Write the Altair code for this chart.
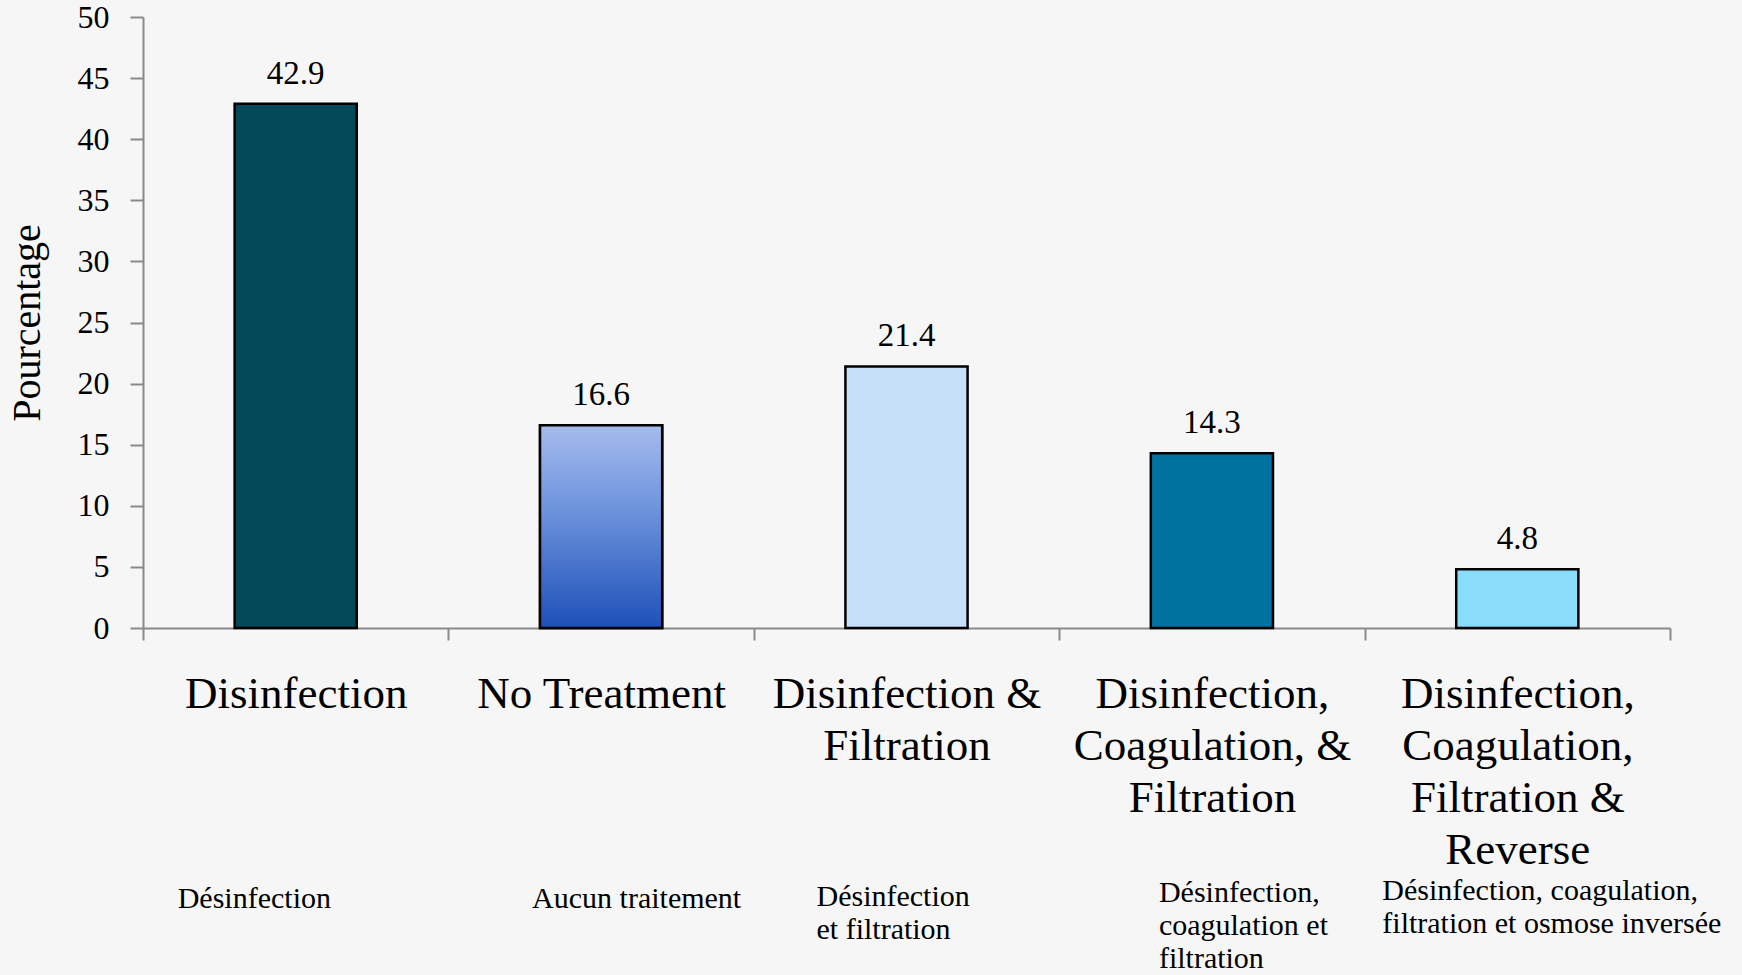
import altair as alt
import pandas as pd

categories = [
    "Disinfection",
    "No Treatment",
    "Disinfection &|Filtration",
    "Disinfection,|Coagulation, &|Filtration",
    "Disinfection,|Coagulation,|Filtration &|Reverse",
]
values = [42.9, 16.6, 21.4, 14.3, 4.8]
value_labels = ["42.9", "16.6", "21.4", "14.3", "4.8"]
french_labels = [
    ["Désinfection"],
    ["Aucun traitement"],
    ["Désinfection", "et filtration"],
    ["Désinfection,", "coagulation et", "filtration"],
    ["Désinfection, coagulation,", "filtration et osmose inversée"],
]
bar_colors = ["#03495A", "#5A87D8", "#C6E0F8", "#0073A0", "#8ADCFB"]
y_ticks = list(range(0, 55, 5))

# style / layout (not data)
french_dx = [-118, -69, -90, -53, -135]
french_top = [867, 867, 865, 861, 859]
W, H = 1527, 611
FONT = "Liberation Serif"
BAR_W = alt.RelativeBandSize(0.4)

df = pd.DataFrame({"cat": categories, "value": values, "label": value_labels})

x = alt.X(
    "cat:N",
    sort=categories,
    scale=alt.Scale(paddingInner=0, paddingOuter=0),
    axis=alt.Axis(
        title=None,
        labelExpr="split(datum.label, '|')",
        labelAngle=0,
        labelFont=FONT,
        labelFontSize=45,
        labelLineHeight=52,
        labelColor="black",
        labelPadding=31,
        labelLimit=0,
        tickBand="extent",
        tickSize=12,
        tickWidth=2,
        tickColor="#8a8a8a",
        domainColor="#8a8a8a",
        domainWidth=2,
        grid=False,
    ),
)
y = alt.Y(
    "value:Q",
    scale=alt.Scale(domain=[0, 50], nice=False),
    axis=alt.Axis(
        title="Pourcentage",
        values=y_ticks,
        labelFont=FONT,
        labelFontSize=32,
        labelColor="black",
        labelPadding=21,
        tickSize=13,
        tickWidth=2,
        tickColor="#8a8a8a",
        domainColor="#8a8a8a",
        domainWidth=2,
        grid=False,
        titleFont=FONT,
        titleFontSize=40,
        titleFontWeight="normal",
        titleColor="black",
        titleX=-96,
        titleY=H / 2,
        titleBaseline="bottom",
    ),
)

base = alt.Chart(df)

bars = base.mark_bar(stroke="black", strokeWidth=2.5, width=BAR_W).encode(
    x=x,
    y=y,
    color=alt.Color("cat:N", scale=alt.Scale(domain=categories, range=bar_colors), legend=None),
)

grad = (
    base.transform_filter(alt.datum.cat == "No Treatment")
    .mark_bar(
        stroke="black",
        strokeWidth=2.5,
        width=BAR_W,
        fill=alt.Gradient(
            gradient="linear",
            x1=0, x2=0, y1=0, y2=1,
            stops=[
                alt.GradientStop(color="#A6BBEC", offset=0),
                alt.GradientStop(color="#6F95DD", offset=0.4),
                alt.GradientStop(color="#1E50B8", offset=1),
            ],
        ),
    )
    .encode(x=x, y=y)
)

texts = base.mark_text(
    font=FONT, fontSize=33, baseline="alphabetic", dy=-20, color="black"
).encode(x=x, y=y, text="label:N")

layers = [bars, grad, texts]
for i in range(len(categories)):
    fdf = pd.DataFrame({"cat": [categories[i]], "fr": [french_labels[i]]})
    layers.append(
        alt.Chart(fdf)
        .mark_text(
            font=FONT,
            fontSize=30,
            align="left",
            baseline="top",
            lineHeight=33,
            dx=french_dx[i],
            color="black",
        )
        .encode(x=alt.X("cat:N", sort=categories), y=alt.value(french_top[i]), text="fr")
    )

chart = (
    alt.layer(*layers)
    .properties(
        width=W,
        height=H,
        autosize=alt.AutoSizeParams(type="none"),
        padding={"left": 143, "top": 17, "right": 72, "bottom": 347},
        background="#f6f6f6",
    )
    .configure_view(stroke=None)
)

chart.save("out.html", embed_options={"renderer": "svg", "actions": False})
